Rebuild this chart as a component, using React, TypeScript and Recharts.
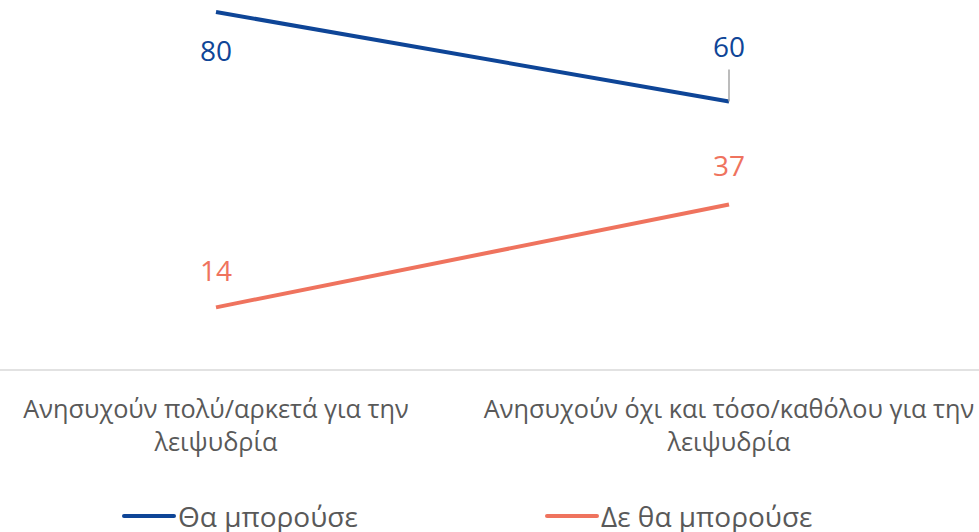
import React from "react";
import { LineChart, Line, XAxis, YAxis, Legend, LabelList } from "recharts";

const categories = [
  "Ανησυχούν πολύ/αρκετά για την\nλειψυδρία",
  "Ανησυχούν όχι και τόσο/καθόλου για την\nλειψυδρία",
];
const couldValues = [80, 60];
const couldNotValues = [14, 37];
const seriesNames = ["Θα μπορούσε", "Δε θα μπορούσε"];
const seriesColors = ["#0E4597", "#EF735E"];

const data = categories.map((c, i) => ({
  category: c,
  could: couldValues[i],
  couldNot: couldNotValues[i],
}));

const FONT = "'Open Sans', sans-serif";
const TEXT_COLOR = "#595959";

const CategoryTick = (props: any) => {
  const { x, y, payload } = props;
  const lines = String(payload.value).split("\n");
  return (
    <g>
      {lines.map((ln: string, i: number) => (
        <text
          key={i}
          x={x}
          y={y + 40 + i * 33}
          textAnchor="middle"
          fill={TEXT_COLOR}
          fontSize={25.3}
          fontFamily={FONT}
        >
          {ln}
        </text>
      ))}
    </g>
  );
};

const makeLabel = (color: string, offsets: number[], leader: boolean[]) => (props: any) => {
  const { x, y, value, index } = props;
  const off = offsets[index];
  return (
    <g>
      {leader[index] ? (
        <line x1={x} y1={y - 32} x2={x} y2={y} stroke="#A6A6A6" strokeWidth={1.5} />
      ) : null}
      <text
        x={x}
        y={y + off}
        dy="0.35em"
        textAnchor="middle"
        fill={color}
        fontSize={28}
        fontFamily={FONT}
      >
        {value}
      </text>
    </g>
  );
};

const LegendContent = () => {
  const lefts = [122, 545];
  return (
    <div style={{ position: "relative", width: 979, height: 42 }}>
      {seriesNames.map((name, i) => (
        <div
          key={name}
          style={{
            position: "absolute",
            left: lefts[i],
            top: 10,
            display: "flex",
            alignItems: "center",
            height: 32,
          }}
        >
          <div
            style={{
              width: 54,
              height: 4,
              borderRadius: 2,
              background: seriesColors[i],
              marginRight: 2,
            }}
          />
          <span
            style={{
              fontFamily: FONT,
              fontSize: 28,
              color: TEXT_COLOR,
              lineHeight: "32px",
            }}
          >
            {name}
          </span>
        </div>
      ))}
    </div>
  );
};

export default function App() {
  return (
    <div style={{ position: "absolute", left: 0, top: 0, width: 979, height: 532, background: "#fff" }}>
      <LineChart
        width={979}
        height={532}
        data={data}
        margin={{ top: 12, right: 0, bottom: 0, left: 0 }}
      >
        <XAxis
          dataKey="category"
          padding={{ left: 216, right: 250 }}
          axisLine={{ stroke: "#D9D9D9", strokeWidth: 1.5 }}
          tickLine={false}
          height={120}
          interval={0}
          tick={<CategoryTick />}
        />
        <YAxis hide domain={[0, 80]} />
        <Legend
          verticalAlign="bottom"
          height={42}
          content={<LegendContent />}
          wrapperStyle={{ left: 0, width: 979 }}
        />
        <Line
          dataKey="could"
          name={seriesNames[0]}
          stroke={seriesColors[0]}
          strokeWidth={4}
          dot={false}
          isAnimationActive={false}
        >
          <LabelList dataKey="could" content={makeLabel(seriesColors[0], [39, -54], [false, true])} />
        </Line>
        <Line
          dataKey="couldNot"
          name={seriesNames[1]}
          stroke={seriesColors[1]}
          strokeWidth={4}
          dot={false}
          isAnimationActive={false}
        >
          <LabelList dataKey="couldNot" content={makeLabel(seriesColors[1], [-36, -38], [false, false])} />
        </Line>
      </LineChart>
    </div>
  );
}
